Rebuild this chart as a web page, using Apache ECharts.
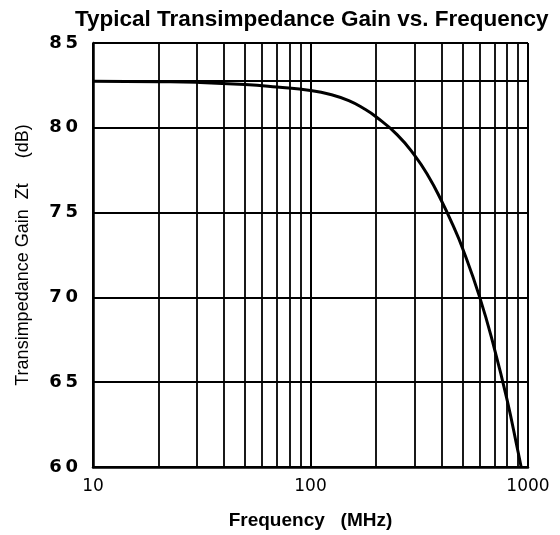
<!DOCTYPE html>
<html>
<head>
<meta charset="utf-8">
<script src="https://cdn.jsdelivr.net/npm/echarts@6/dist/echarts.min.js"></script>
<style>
  html, body { margin: 0; padding: 0; background: #fff; }
  #chart { width: 560px; height: 535px; }
</style>
</head>
<body>
<div id="chart"></div>
<script>
// curve: frequency (MHz) vs gain (dB)
const freqs = [10, 20, 30, 50, 70, 100, 125, 150, 175, 200, 250, 300, 350, 400, 450, 500, 600, 700, 800, 900, 930]
const gains = [82.75, 82.72, 82.68, 82.55, 82.4, 82.2, 81.95, 81.6, 81.15, 80.65, 79.6, 78.4, 77.1, 75.7, 74.3, 72.9, 70.0, 67.0, 64.0, 60.9, 60]

// extra grid: decade sub-divisions and the flat-band reference line
const minorFreqs = [20, 30, 40, 50, 60, 70, 80, 90, 200, 300, 400, 500, 600, 700, 800, 900]
const refGain = [82.75]

const font = 'Liberation Sans'
const chart = echarts.init(document.getElementById('chart'))

chart.setOption({
  animation: false,
  backgroundColor: '#fff',
  title: {
    text: 'Typical Transimpedance Gain vs. Frequency',
    left: 70,
    top: 3,
    textStyle: { fontFamily: font, fontSize: 22.5, fontWeight: 'bold', color: '#000' }
  },
  grid: { left: 93, right: 32, top: 43, bottom: 64 },
  xAxis: {
    type: 'log',
    logBase: 10,
    min: 10,
    max: 1000,
    name: 'Frequency   (MHz)',
    nameLocation: 'middle',
    nameGap: 44,
    nameTextStyle: { fontFamily: font, fontSize: 19, fontWeight: 'bold', color: '#000' },
    axisLine: { lineStyle: { color: '#000', width: 2.5 } },
    axisTick: { show: false },
    axisLabel: {
      margin: 11,
      fontFamily: 'DejaVu Sans',
      fontSize: 17,
      color: '#000',
      formatter: v => String(v)
    },
    splitLine: { show: true, lineStyle: { color: '#000', width: 2 } }
  },
  yAxis: {
    type: 'value',
    min: 60,
    max: 85,
    interval: 5,
    name: 'Transimpedance Gain  Zt     (dB)',
    nameLocation: 'middle',
    nameGap: 61,
    nameTextStyle: { fontFamily: font, fontSize: 18, color: '#000' },
    axisLine: { show: true, lineStyle: { color: '#000', width: 2.5 } },
    axisTick: { show: false },
    axisLabel: {
      margin: 15,
      fontFamily: 'DejaVu Sans',
      fontSize: 18,
      fontWeight: 'bold',
      color: '#000',
      formatter: v => String(v).split('').join('\u2009')
    },
    splitLine: { show: true, lineStyle: { color: '#000', width: 2 } }
  },
  series: [{
    type: 'line',
    data: freqs.map((f, i) => [f, gains[i]]),
    smooth: 0.5,
    showSymbol: false,
    lineStyle: { color: '#000', width: 3 },
    markLine: {
      silent: true,
      symbol: 'none',
      label: { show: false },
      lineStyle: { color: '#000', width: 1.8, type: 'solid' },
      data: minorFreqs.map(f => ({ xAxis: f })).concat(refGain.map(g => ({ yAxis: g })))
    }
  }]
})
</script>
</body>
</html>
